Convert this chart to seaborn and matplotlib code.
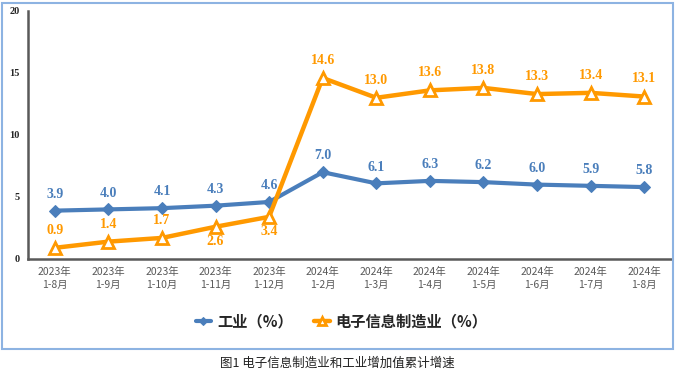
import numpy as np
import pandas as pd
import matplotlib.pyplot as plt
import matplotlib.patches as patches
import seaborn as sns

sns.set_style("white")
plt.rcParams['font.family'] = ['Noto Sans CJK SC', 'DejaVu Sans']

# Data
months = ["2023年\n1-8月", "2023年\n1-9月", "2023年\n1-10月", "2023年\n1-11月", "2023年\n1-12月",
          "2024年\n1-2月", "2024年\n1-3月", "2024年\n1-4月", "2024年\n1-5月", "2024年\n1-6月",
          "2024年\n1-7月", "2024年\n1-8月"]
industry = [3.9, 4.0, 4.1, 4.3, 4.6, 7.0, 6.1, 6.3, 6.2, 6.0, 5.9, 5.8]
electronics = [0.9, 1.4, 1.7, 2.6, 3.4, 14.6, 13.0, 13.6, 13.8, 13.3, 13.4, 13.1]
below_labels = [3, 4]  # orange labels drawn under the point

blue = "#4a7ebb"
orange = "#ff9900"

df = pd.DataFrame({"pos": np.arange(len(months)), "industry": industry, "electronics": electronics})

fig = plt.figure(figsize=(6.75, 3.74), dpi=100)
ax = fig.add_axes([28 / 675, 115 / 374, 643 / 675, 248 / 374])

sns.lineplot(data=df, x="pos", y="industry", ax=ax, color=blue, lw=3, marker="D",
             markersize=6, markeredgecolor=blue, label="工业（%）")
sns.lineplot(data=df, x="pos", y="electronics", ax=ax, color=orange, lw=3.2, marker="^",
             markersize=8, markerfacecolor="white", markeredgecolor=orange, markeredgewidth=2,
             label="电子信息制造业（%）")

serif = ["Liberation Serif", "DejaVu Serif"]
for i, v in enumerate(industry):
    ax.annotate(f"{v:.1f}", (i, v), xytext=(0, 7), textcoords="offset points",
                ha="center", va="bottom", color=blue, fontsize=10, fontweight="bold", family=serif)
for i, v in enumerate(electronics):
    if i in below_labels:
        ax.annotate(f"{v:.1f}", (i, v), xytext=(0, -6), textcoords="offset points",
                    ha="center", va="top", color=orange, fontsize=10, fontweight="bold", family=serif)
    else:
        ax.annotate(f"{v:.1f}", (i, v), xytext=(0, 8), textcoords="offset points",
                    ha="center", va="bottom", color=orange, fontsize=10, fontweight="bold", family=serif)

ax.set_xlim(-0.5, len(months) - 0.5)
ax.set_ylim(0, 20)
ax.set_yticks([0, 5, 10, 15, 20])
ax.set_yticklabels(["0", "5", "10", "15", "20"], family=serif, fontweight="bold", fontsize=7.5)
ax.set_xticks(df["pos"])
ax.set_xticklabels(months, fontsize=7.5, color="#595959", linespacing=1.3)
ax.tick_params(axis="both", length=0, pad=6)
ax.set_xlabel("")
ax.set_ylabel("")
for s in ["top", "right"]:
    ax.spines[s].set_visible(False)
for s in ["left", "bottom"]:
    ax.spines[s].set_color("#595959")
    ax.spines[s].set_linewidth(1.8)

leg = ax.legend(loc="center", bbox_to_anchor=(0.488, -0.25), ncol=2, frameon=False,
                handlelength=1.0, handletextpad=0.4, markerscale=0.7, columnspacing=1.4,
                prop={"size": 11, "weight": "bold"})

# outer border
fig.patches.append(patches.Rectangle((2 / 675, 25 / 374), 671 / 675, 346 / 374,
                                     transform=fig.transFigure, fill=False,
                                     edgecolor="#8db3e2", lw=1.5))
fig.text(0.5, 11 / 374, "图1 电子信息制造业和工业增加值累计增速", ha="center", va="center",
         fontsize=9, color="#222222")

plt.savefig("out.png", dpi=100)
plt.close()
